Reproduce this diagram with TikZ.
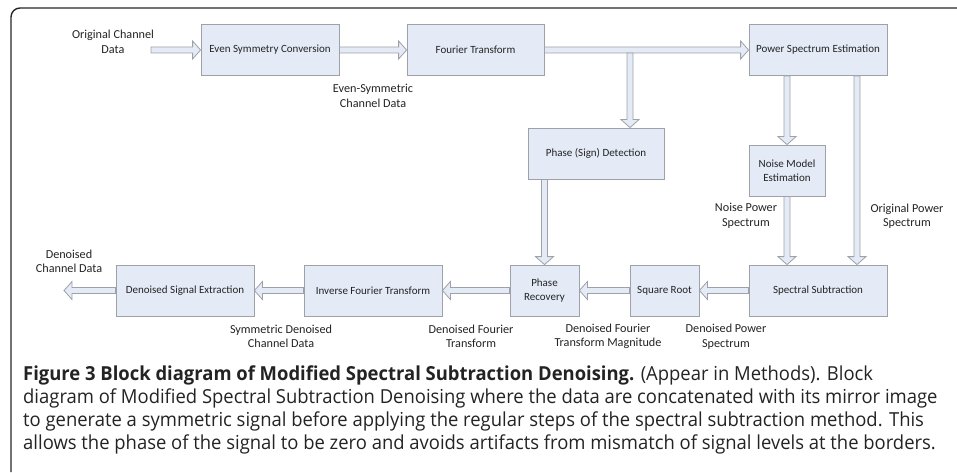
\documentclass[tikz,border=0pt]{standalone}
\usepackage{fontspec}
\setmainfont{Carlito}
\newfontfamily\capfont[FakeStretch=0.955]{Open Sans}
\usetikzlibrary{calc}
\definecolor{boxfill}{RGB}{228,235,247}
\definecolor{boxline}{RGB}{158,162,168}
\definecolor{txt}{RGB}{35,35,35}
\newcommand\sw{3}
\newcommand\hw{9}
\newcommand\hl{8}
% right-pointing block arrow
\newcommand\arrR[2]{\draw[barr] ($(#1)+(0,-\sw)$) -- ($(#2)+(-\hl,-\sw)$) -- ($(#2)+(-\hl,-\hw)$) -- (#2) -- ($(#2)+(-\hl,\hw)$) -- ($(#2)+(-\hl,\sw)$) -- ($(#1)+(0,\sw)$) -- cycle;}
% left-pointing block arrow
\newcommand\arrL[2]{\draw[barr] ($(#1)+(0,-\sw)$) -- ($(#2)+(\hl,-\sw)$) -- ($(#2)+(\hl,-\hw)$) -- (#2) -- ($(#2)+(\hl,\hw)$) -- ($(#2)+(\hl,\sw)$) -- ($(#1)+(0,\sw)$) -- cycle;}
% down-pointing block arrow (y axis points down)
\newcommand\arrD[2]{\draw[barr] ($(#1)+(-\sw,0)$) -- ($(#2)+(-\sw,-\hl)$) -- ($(#2)+(-\hw,-\hl)$) -- (#2) -- ($(#2)+(\hw,-\hl)$) -- ($(#2)+(\sw,-\hl)$) -- ($(#1)+(\sw,0)$) -- cycle;}
\begin{document}
\begin{tikzpicture}[x=1pt,y=-1pt,
  blk/.style={draw=boxline, fill=boxfill, line width=0.8pt, minimum height=51pt, text=txt,
              font=\fontsize{11}{13.5}\selectfont, align=center, inner sep=0pt},
  lbl/.style={text=txt, font=\fontsize{12.2}{14.5}\selectfont, align=center, inner sep=0pt},
  barr/.style={draw=boxline, fill=boxfill, line width=0.8pt, line join=miter},
  captext/.style={anchor=base west, inner sep=0pt, text=txt, font=\capfont\fontsize{19.3}{22}\selectfont}]
\useasboundingbox (0,0) rectangle (957,473);
\draw[line width=1.4pt, black!85, rounded corners=9pt] (11,472) -- (11,8) -- (957,8);

% blocks
\node[blk, minimum width=138pt] (esc) at (270,50) {Even Symmetry Conversion};
\node[blk, minimum width=137pt] (ft) at (475.5,50) {Fourier Transform};
\node[blk, minimum width=138pt] (pse) at (818,50) {Power Spectrum Estimation};
\node[blk, minimum width=136pt] (psd) at (596,153.5) {Phase (Sign) Detection};
\node[blk, minimum width=76pt] (nme) at (787,170.5) {Noise Model\\Estimation};
\node[blk, minimum width=138pt] (dse) at (185,290.5) {Denoised Signal Extraction};
\node[blk, minimum width=138pt] (ift) at (373,290.5) {Inverse Fourier Transform};
\node[blk, minimum width=69pt] (pr) at (544.5,290.5) {Phase\\Recovery};
\node[blk, minimum width=69pt] (sr) at (664.5,290.5) {Square Root};
\node[blk, minimum width=138pt] (ss) at (818,290.5) {Spectral Subtraction};

% helper coordinates
\coordinate (in) at (151,50);
\coordinate (out) at (64,290.5);
\coordinate (b1) at (630,53);
\coordinate (b2) at (psd.north -| b1);
\coordinate (n1) at (pse.south -| nme.north);
\coordinate (n2) at (ss.north -| nme.south);
\coordinate (o1) at (857,76);
\coordinate (o2) at (ss.north -| o1);
\coordinate (p1) at (psd.south -| pr.north);

% connectors
\arrR{in}{esc.west}
\arrR{esc.east}{ft.west}
\arrR{ft.east}{pse.west}
\arrD{b1}{b2}
\arrD{n1}{nme.north}
\arrD{nme.south}{n2}
\arrD{o1}{o2}
\arrD{p1}{pr.north}
\arrL{ss.west}{sr.east}
\arrL{sr.west}{pr.east}
\arrL{pr.west}{ift.east}
\arrL{ift.west}{dse.east}
\arrL{dse.west}{out}

% labels
\node[lbl] (l1) at (113,42) {Original Channel\\Data};
\node[lbl] (l2) at (373,96) {Even-Symmetric\\Channel Data};
\node[lbl] (l3) at (746,216) {Noise Power\\Spectrum};
\node[lbl] (l4) at (907,216) {Original Power\\Spectrum};
\node[lbl] (l5) at (69,261.5) {Denoised\\Channel Data};
\node[lbl] (l6) at (281,336.5) {Symmetric Denoised\\Channel Data};
\node[lbl] (l7) at (471,336.5) {Denoised Fourier\\Transform};
\node[lbl] (l8) at (608,336.5) {Denoised Fourier\\Transform Magnitude};
\node[lbl] (l9) at (726,336.5) {Denoised Power\\Spectrum};

% caption
\node[captext] (c1) at (23,380) {\textbf{Figure 3 Block diagram of Modified Spectral Subtraction Denoising.} (Appear in Methods). Block};
\node[captext] (c2) at (23,403) {diagram of Modified Spectral Subtraction Denoising where the data are concatenated with its mirror image};
\node[captext] (c3) at (23,426) {to generate a symmetric signal before applying the regular steps of the spectral subtraction method. This};
\node[captext] (c4) at (23,449) {allows the phase of the signal to be zero and avoids artifacts from mismatch of signal levels at the borders.};
\end{tikzpicture}
\end{document}
